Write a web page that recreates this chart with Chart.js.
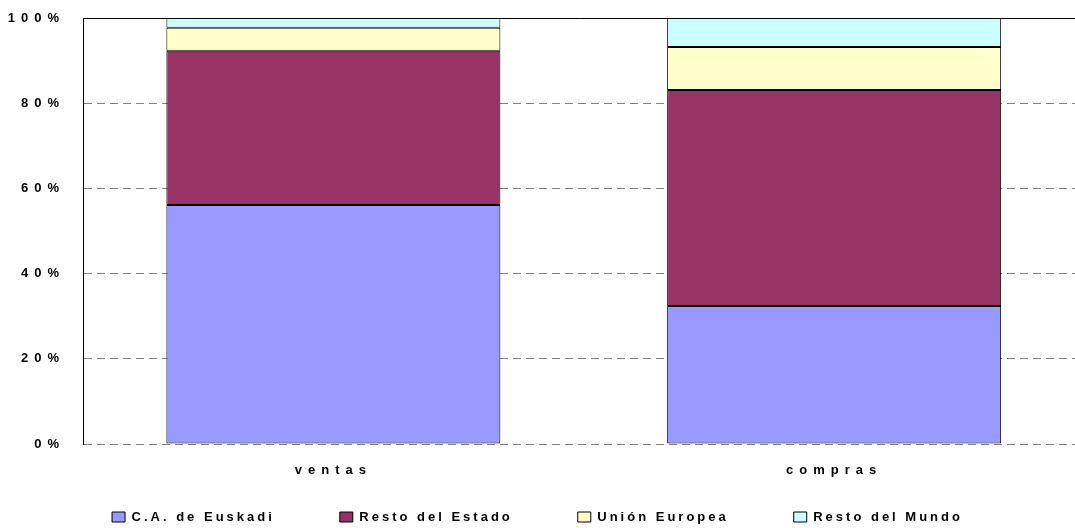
<!DOCTYPE html>
<html lang="es">
<head>
    <meta charset="UTF-8">
    <title>ventas / compras</title>
    <script src="https://cdn.jsdelivr.net/npm/chart.js"></script>
    <style>
        body { margin: 0; background: #fff; }
        #wrap { width: 1075px; height: 528px; }
    </style>
</head>
<body>
    <div id="wrap">
        <canvas id="chart" width="1075" height="528"></canvas>
    </div>

    <script>
        // datos
        const categories = ['ventas', 'compras'];
        const seriesNames = ['C.A. de Euskadi', 'Resto del Estado', 'Unión Europea', 'Resto del Mundo'];
        const euskadi = [56.1, 32.4];
        const restoEstado = [36.2, 50.7];
        const unionEuropea = [5.4, 10.1];
        const restoMundo = [2.3, 6.8];
        const yTickLabels = ['0%', '20%', '40%', '60%', '80%', '100%'];

        const colors = ['#9999FF', '#993366', '#FFFFCC', '#CCFFFF'];
        const values = [euskadi, restoEstado, unionEuropea, restoMundo];

        Chart.defaults.font.family = "'Liberation Sans', Arial, sans-serif";
        Chart.defaults.font.weight = 'bold';
        Chart.defaults.font.size = 13;
        Chart.defaults.color = '#000';

        // espaciado entre letras: leyenda 3px, ejes 6px (los ejes se pintan despues de las barras)
        const spacing = {
            id: 'spacing',
            beforeUpdate(chart) { chart.ctx.letterSpacing = '3px'; },
            beforeDraw(chart) { chart.ctx.letterSpacing = '3px'; },
            afterDatasetsDraw(chart) { chart.ctx.letterSpacing = '6px'; },
            afterLayout(chart) {
                const lg = chart.legend;
                lg.top = chart.height - 17.5 - lg.options.labels.padding;
            }
        };

        new Chart(document.getElementById('chart'), {
            type: 'bar',
            data: {
                datasets: seriesNames.map((name, i) => ({
                    label: name,
                    data: categories.map((c, j) => ({ x: j, y: values[i][j] })),
                    backgroundColor: colors[i],
                    borderColor: '#000',
                    borderWidth: 1,
                    borderSkipped: false,
                    categoryPercentage: 0.667,
                    barPercentage: 1
                }))
            },
            options: {
                responsive: false,
                animation: false,
                layout: { padding: { top: 18, right: 0, left: 0, bottom: 0 } },
                plugins: {
                    tooltip: { enabled: false },
                    legend: {
                        position: 'bottom',
                        maxHeight: 44,
                        labels: { boxWidth: 13, boxHeight: 10, padding: 65, font: { size: 13, weight: 'bold' } }
                    }
                },
                scales: {
                    x: {
                        type: 'linear',
                        stacked: true,
                        offset: false,
                        min: -0.5,
                        max: 1.481,
                        grid: { display: false },
                        border: { display: false },
                        ticks: {
                            stepSize: 1,
                            padding: 11,
                            z: 1,
                            font: { size: 13, weight: 'bold' },
                            callback: (v) => categories[v]
                        },
                        afterBuildTicks(scale) {
                            scale.ticks = scale.ticks.filter(t => Number.isInteger(t.value));
                        },
                        afterFit(scale) { scale.height = 40; }
                    },
                    x2: {
                        position: 'top',
                        grid: { display: false },
                        ticks: { display: false },
                        border: { display: true, color: '#000', width: 1 },
                        afterFit(scale) { scale.height = 0; }
                    },
                    y: {
                        stacked: true,
                        min: 0,
                        max: 100,
                        ticks: {
                            stepSize: 20,
                            padding: 18,
                            z: 1,
                            callback: (v, i) => yTickLabels[i]
                        },
                        grid: { color: '#808080', drawTicks: false },
                        border: { color: '#000', width: 1, dash: [8, 5] },
                        afterFit(scale) {
                            scale.width = 83;
                            scale.paddingTop = 0;
                            scale.paddingBottom = 0;
                        }
                    }
                }
            },
            plugins: [spacing]
        });
    </script>
</body>
</html>
